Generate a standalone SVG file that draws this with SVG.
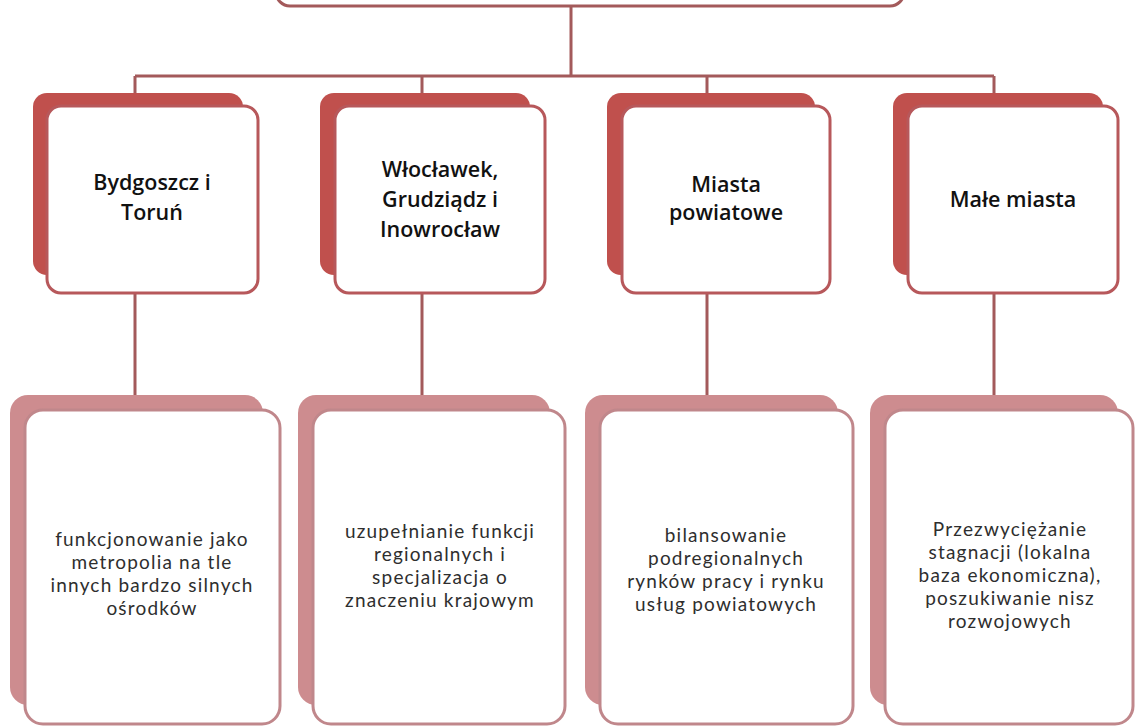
<svg xmlns="http://www.w3.org/2000/svg" width="1137" height="727" viewBox="0 0 1137 727">
<style>
.conn{stroke:#a35a5b;stroke-width:3;fill:none}
.back1{fill:#c0504d}
.front1{fill:#ffffff;stroke:#b7585b;stroke-width:3}
.back2{fill:#cd8c8f}
.front2{fill:#ffffff;stroke:#c0878b;stroke-width:3}
.t1{font-family:"Open Sans","Liberation Sans",sans-serif;font-weight:600;font-size:21.5px;fill:#111;text-anchor:middle}
.t2{font-family:Lato,"Liberation Sans",sans-serif;font-weight:400;font-size:19px;letter-spacing:1.2px;fill:#2e2e2e;text-anchor:middle}
</style>
<rect width="1137" height="727" fill="#ffffff"/>
<g id="root">
<rect x="276" y="-60" width="628" height="66" rx="14" fill="#ffffff" stroke="#a35a5b" stroke-width="3"/>
</g>
<g id="connectors">
<path class="conn" d="M571 6 V76 M135 76 H994 M135 76 V93 M422 76 V93 M707 76 V93 M994 76 V93"/>
<path class="conn" d="M135 293 V395 M422 293 V395 M707 293 V395 M994 293 V395"/>
</g>
<g id="n1">
<rect class="back1" x="33" y="93" width="210" height="182" rx="14"/>
<rect class="front1" x="47" y="106" width="211" height="187" rx="14"/>
<text class="t1" x="152" y="190">Bydgoszcz i</text>
<text class="t1" x="152" y="220">Toruń</text>
</g>
<g id="n2">
<rect class="back1" x="320" y="93" width="210" height="182" rx="14"/>
<rect class="front1" x="335" y="106" width="210" height="187" rx="14"/>
<text class="t1" x="440" y="177">Włocławek,</text>
<text class="t1" x="440" y="207">Grudziądz i</text>
<text class="t1" x="440" y="237">Inowrocław</text>
</g>
<g id="n3">
<rect class="back1" x="607" y="93" width="208" height="182" rx="14"/>
<rect class="front1" x="622" y="106" width="208" height="187" rx="14"/>
<text class="t1" x="726" y="192">Miasta</text>
<text class="t1" x="726" y="220">powiatowe</text>
</g>
<g id="n4">
<rect class="back1" x="893" y="93" width="210" height="182" rx="14"/>
<rect class="front1" x="908" y="106" width="210" height="187" rx="14"/>
<text class="t1" x="1013" y="207">Małe miasta</text>
</g>
<g id="d1">
<rect class="back2" x="10" y="395" width="253" height="310" rx="18"/>
<rect class="front2" x="25" y="410" width="255" height="314" rx="18"/>
<text class="t2" x="152" y="546">funkcjonowanie jako</text>
<text class="t2" x="152" y="569">metropolia na tle</text>
<text class="t2" x="152" y="592">innych bardzo silnych</text>
<text class="t2" x="152" y="615">ośrodków</text>
</g>
<g id="d2">
<rect class="back2" x="298" y="395" width="252" height="310" rx="18"/>
<rect class="front2" x="313" y="410" width="252" height="314" rx="18"/>
<text class="t2" x="440" y="538">uzupełnianie funkcji</text>
<text class="t2" x="440" y="561">regionalnych i</text>
<text class="t2" x="440" y="584">specjalizacja o</text>
<text class="t2" x="440" y="607">znaczeniu krajowym</text>
</g>
<g id="d3">
<rect class="back2" x="585" y="395" width="253" height="310" rx="18"/>
<rect class="front2" x="600" y="410" width="253" height="314" rx="18"/>
<text class="t2" x="726" y="542">bilansowanie</text>
<text class="t2" x="726" y="565">podregionalnych</text>
<text class="t2" x="726" y="588">rynków pracy i rynku</text>
<text class="t2" x="726" y="611">usług powiatowych</text>
</g>
<g id="d4">
<rect class="back2" x="870" y="395" width="248" height="310" rx="18"/>
<rect class="front2" x="885" y="410" width="248" height="314" rx="18"/>
<text class="t2" x="1010" y="536">Przezwyciężanie</text>
<text class="t2" x="1010" y="559">stagnacji (lokalna</text>
<text class="t2" x="1010" y="582">baza ekonomiczna),</text>
<text class="t2" x="1010" y="605">poszukiwanie nisz</text>
<text class="t2" x="1010" y="628">rozwojowych</text>
</g>
</svg>
